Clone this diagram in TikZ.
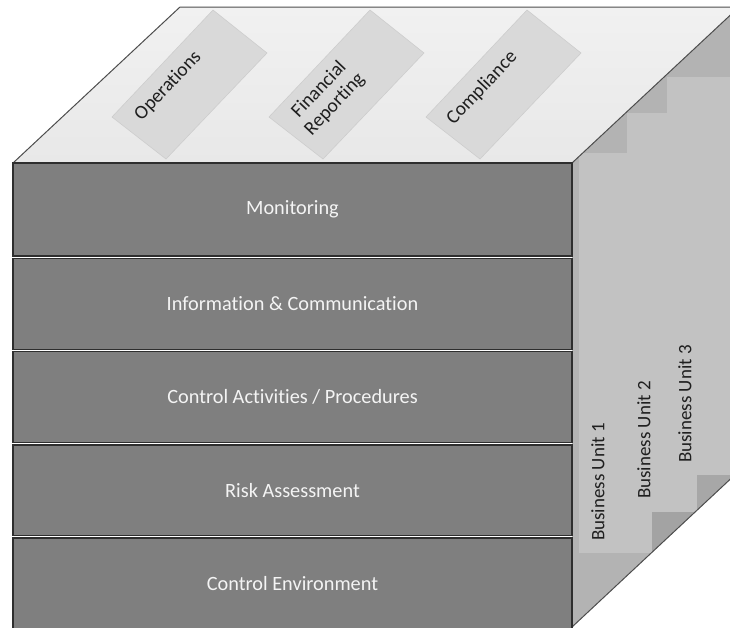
\documentclass[tikz,border=0pt]{standalone}
\usepackage{fontspec}
\setmainfont{Carlito}[Ligatures=NoCommon]
\definecolor{topA}{HTML}{F1F1F1}
\definecolor{topB}{HTML}{E8E8E8}
\definecolor{lblfill}{HTML}{D9D9D9}
\definecolor{lbledge}{HTML}{CDCDCD}
\definecolor{layerfill}{HTML}{7F7F7F}
\definecolor{edgedark}{HTML}{2E2E2E}
\definecolor{sidebase}{HTML}{B3B3B3}
\definecolor{sidedark}{HTML}{A3A3A3}
\definecolor{bufill}{HTML}{C2C2C2}
\definecolor{laytext}{HTML}{F4F4F4}
\tikzset{
  layer/.style={rectangle, fill=layerfill, draw=edgedark, line width=1.3pt,
    minimum width=559pt, text=laytext, font=\fontsize{20.3}{24}\selectfont, inner sep=0pt},
  lblbox/.style={fill=lblfill, draw=lbledge, line width=0.6pt},
  lbltext/.style={rotate=46.6, text=black!88, font=\fontsize{19.5}{21.5}\selectfont, align=center, inner sep=0pt},
  butext/.style={rotate=90, anchor=north west, text=black!88, font=\fontsize{19}{23}\selectfont, inner sep=0pt},
  bubox/.style={fill=bufill},
  cubeedge/.style={draw=edgedark!85, line width=1pt}
}
\begin{document}
\begin{tikzpicture}[x=1pt,y=-1pt]
\useasboundingbox (0,0) rectangle (730,627);
\clip (0,0) rectangle (730,627);
% top face
\shade[top color=topA, bottom color=topB] (13,163) -- (180,7) -- (760,7) -- (572,163) -- cycle;
% label boxes on top face
\foreach \x in {112,269,426}{
  \path[lblbox] (\x,117) -- (\x+54,159) -- (\x+155,53) -- (\x+101,10) -- cycle;
}
\node[lbltext] (ops) at (168,86) {Operations};
\node[lbltext] (fin) at (327,97) {Financial\\Reporting};
\node[lbltext] (comp) at (482,88) {Compliance};
% side face
\begin{scope}
  \clip (572,163) -- (739,7) -- (739,471) -- (572,627) -- cycle;
  \fill[sidebase] (560,0) rectangle (760,640);
  \fill[sidedark] (652,512) rectangle (697,640);
  \fill[sidedark!96!white] (697,475) rectangle (760,640);
  \fill[bubox] (579,153) rectangle (652,553);
  \fill[bubox] (627,113) rectangle (697,512);
  \fill[bubox] (667,77) rectangle (760,475);
\end{scope}
\node[butext] (bu1) at (591,541) {Business Unit 1};
\node[butext] (bu2) at (637,499) {Business Unit 2};
\node[butext] (bu3) at (678,463) {Business Unit 3};
% cube edges
\draw[cubeedge] (13,163) -- (180,7) -- (760,7);
\draw[cubeedge] (572,163) -- (739,7);
\draw[cubeedge] (572,627) -- (739,471);
% front layers
\node[layer, minimum height=93pt] (mon) at (292.5,209.5) {Monitoring};
\node[layer, minimum height=91pt] (info) at (292.5,304) {Information \& Communication};
\node[layer, minimum height=91pt] (ctrl) at (292.5,397) {Control Activities / Procedures};
\node[layer, minimum height=90.5pt] (risk) at (292.5,490.25) {Risk Assessment};
\node[layer, minimum height=92pt] (env) at (292.5,584) {Control Environment};
\end{tikzpicture}
\end{document}
